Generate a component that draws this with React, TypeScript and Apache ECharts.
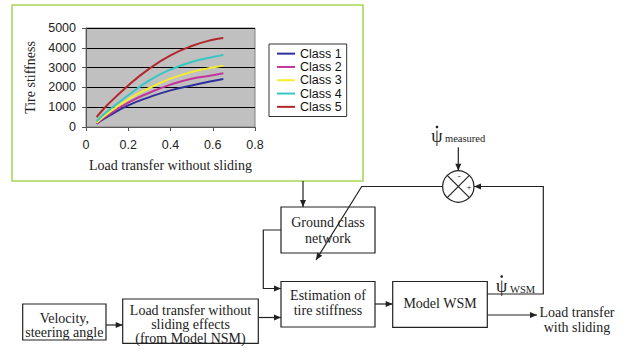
import React, { useEffect, useRef } from "react";
import * as echarts from "echarts";

const xValues = [0.05, 0.1, 0.2, 0.3, 0.4, 0.5, 0.6, 0.65];
const class1 = [170, 510, 1090, 1510, 1850, 2100, 2320, 2420];
const class2 = [170, 580, 1230, 1730, 2140, 2440, 2610, 2710];
const class3 = [220, 660, 1400, 1970, 2440, 2780, 3000, 3100];
const class4 = [290, 780, 1600, 2360, 2900, 3280, 3540, 3640];
const class5 = [500, 1100, 2100, 2950, 3620, 4090, 4410, 4500];
const seriesNames = ["Class 1", "Class 2", "Class 3", "Class 4", "Class 5"];
const seriesValues = [class1, class2, class3, class4, class5];
const seriesColors = ["#2E2F9A", "#C2359A", "#F5EE2E", "#38C6C4", "#B3262B"];
const xTicks = [0, 0.2, 0.4, 0.6, 0.8];
const yTicks = [0, 1000, 2000, 3000, 4000, 5000];

const INK = "#222";
const SERIF = "Liberation Serif";

function arrowHead(tx: number, ty: number, fx: number, fy: number, len = 7, half = 3) {
  const dx = tx - fx, dy = ty - fy;
  const d = Math.hypot(dx, dy);
  const ux = dx / d, uy = dy / d;
  const bx = tx - ux * len, by = ty - uy * len;
  return {
    type: "polygon",
    shape: { points: [[tx, ty], [bx - uy * half, by + ux * half], [bx + uy * half, by - ux * half]] },
    style: { fill: INK },
  };
}

function connector(points: number[][]) {
  const n = points.length;
  const last = points[n - 1];
  const prev = points[n - 2];
  return [
    { type: "polyline", shape: { points }, style: { stroke: INK, lineWidth: 1.2, fill: "none" } },
    arrowHead(last[0], last[1], prev[0], prev[1]),
  ];
}

function box(x: number, y: number, w: number, h: number) {
  return {
    type: "rect",
    shape: { x, y, width: w, height: h },
    style: { fill: "#fff", stroke: INK, lineWidth: 1.2 },
  };
}

function label(text: string, x: number, y: number, size = 14, align = "center", lineHeight = 14) {
  return {
    type: "text",
    style: {
      text, x, y, fill: INK, fontSize: size, fontFamily: SERIF, lineHeight,
      align, verticalAlign: "middle",
    },
  };
}

export default function App() {
  const ref = useRef<HTMLDivElement>(null);
  useEffect(() => {
    if (!ref.current) return;
    const chart = echarts.init(ref.current, null, { renderer: "svg" });
    const cx = 458.3, cy = 186.5, r = 15.7, k = r * Math.SQRT1_2;
    const graphics: any[] = [
      // green frame around the chart
      { type: "rect", shape: { x: 12, y: 5, width: 351, height: 176 }, style: { fill: "none", stroke: "#A9D65A", lineWidth: 1.6 } },
      // boxes
      box(281, 207, 94, 46),
      box(281, 281.5, 94, 45.5),
      box(392.7, 281.5, 94.6, 45.8),
      box(22.7, 304, 83.3, 36),
      box(122.7, 299, 135.6, 44.3),
      label("Ground class\nnetwork", 328, 230.5, 14, "center", 15.6),
      label("Estimation of\ntire stiffness", 328, 302.5, 14, "center", 15),
      label("Model WSM", 440, 303.5),
      label("Velocity,\nsteering angle", 64.3, 325.3, 14, "center", 14),
      label("Load transfer without\nsliding effects\n(from Model NSM)", 190.5, 324.2, 14, "center", 14),
      label("Load transfer\nwith sliding", 577, 319.8, 14, "center", 15),
      // connectors
      ...connector([[303, 181], [303, 207]]),
      ...connector([[281, 230], [263.3, 230], [263.3, 288.5], [281, 288.5]]),
      ...connector([[106, 325], [122.7, 325]]),
      ...connector([[258.3, 317.5], [281, 317.5]]),
      ...connector([[375, 304], [392.7, 304]]),
      ...connector([[487.3, 315], [537, 315]]),
      ...connector([[487.3, 294], [543.3, 294], [543.3, cy], [cx + r, cy]]),
      ...connector([[cx - r, cy], [361.7, cy], [316, 260]]),
      ...connector([[cx, 147.3], [cx, cy - r]]),
      // summing junction
      { type: "circle", shape: { cx, cy, r }, style: { fill: "#fff", stroke: INK, lineWidth: 1.2 } },
      { type: "line", shape: { x1: cx - k, y1: cy - k, x2: cx + k, y2: cy + k }, style: { stroke: INK, lineWidth: 1.2 } },
      { type: "line", shape: { x1: cx - k, y1: cy + k, x2: cx + k, y2: cy - k }, style: { stroke: INK, lineWidth: 1.2 } },
      label("-", cx + 1, 175.5, 9),
      label("+", 469, cy, 9),
      // psi measured
      label("ψ", 437, 135.5, 18),
      { type: "circle", shape: { cx: 437, cy: 127, r: 1.3 }, style: { fill: INK } },
      label("measured", 445, 138.3, 10.5, "left"),
      // psi WSM
      label("ψ", 501.7, 286, 18),
      { type: "circle", shape: { cx: 501.7, cy: 276.5, r: 1.3 }, style: { fill: INK } },
      label("WSM", 510, 289.3, 10.5, "left"),
    ];

    chart.setOption({
      animation: false,
      grid: {
        left: 86, top: 28, width: 169, height: 99,
        show: true, backgroundColor: "#C0C0C0", borderColor: "#808080", borderWidth: 1,
        outerBoundsMode: "none",
      },
      legend: {
        orient: "vertical", left: 269, top: 44,
        padding: [3, 5, 3, 8], itemGap: 0, itemWidth: 18, itemHeight: 2, icon: "rect",
        borderColor: "#333", borderWidth: 1, backgroundColor: "#fff",
        data: seriesNames,
        textStyle: { fontFamily: "Liberation Sans", fontSize: 12.5, color: "#111", lineHeight: 13.3 },
      },
      xAxis: {
        type: "value", min: 0, max: 0.8, interval: 0.2,
        name: "Load transfer without sliding", nameLocation: "middle", nameGap: 31,
        nameTextStyle: { fontFamily: SERIF, fontSize: 14, color: INK },
        axisLine: { lineStyle: { color: "#555" } },
        axisTick: { show: true, length: 4, lineStyle: { color: "#555" } },
        axisLabel: {
          margin: 11, fontFamily: "Liberation Sans", fontSize: 12.5, color: "#222",
          formatter: (v: number) => (xTicks.includes(Math.round(v * 10) / 10) ? String(Math.round(v * 10) / 10) : ""),
        },
        splitLine: { show: false },
      },
      yAxis: {
        type: "value", min: 0, max: 5000, interval: 1000,
        name: "Tire stiffness", nameLocation: "middle", nameGap: 49,
        nameTextStyle: { fontFamily: SERIF, fontSize: 14, color: INK },
        axisLine: { show: true, lineStyle: { color: "#555" } },
        axisTick: { show: true, length: 4, lineStyle: { color: "#555" } },
        axisLabel: {
          margin: 10, fontFamily: "Liberation Sans", fontSize: 12.5, color: "#222",
          formatter: (v: number) => (yTicks.includes(v) ? String(v) : ""),
        },
        splitLine: { show: true, lineStyle: { color: "#000", width: 1 } },
      },
      series: seriesNames.map((name, i) => ({
        name, type: "line", smooth: true, showSymbol: false, color: seriesColors[i],
        lineStyle: { width: 2, color: seriesColors[i] },
        data: xValues.map((x, j) => [x, seriesValues[i][j]]),
      })),
      graphic: { elements: graphics },
    });
    return () => chart.dispose();
  }, []);
  return <div ref={ref} style={{ position: "fixed", left: 0, top: 0, width: 624, height: 352, background: "#fff" }} />;
}
